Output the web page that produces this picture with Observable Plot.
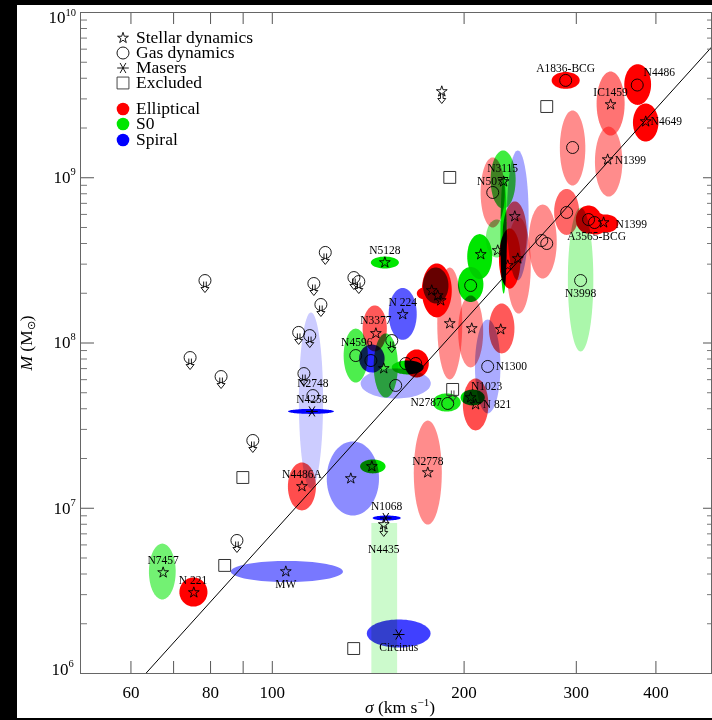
<!DOCTYPE html>
<html><head><meta charset="utf-8">
<script src="https://cdn.jsdelivr.net/npm/d3@7"></script>
<script src="https://cdn.jsdelivr.net/npm/@observablehq/plot@0.6"></script>
<style>
html,body{margin:0;padding:0;background:#000;width:712px;height:720px;overflow:hidden;}
#wrap{position:absolute;left:17px;top:5px;width:695px;height:713px;background:#fff;font-family:"Liberation Serif","Times New Roman",serif;color:#000;}
#wrap svg.plot{position:absolute;left:0;top:0;}
.leg{position:absolute;font-size:17.5px;line-height:13px;height:13px;white-space:nowrap;}
.ico{position:absolute;width:20px;height:20px;overflow:visible;}
.title{position:absolute;font-size:17.5px;line-height:20px;white-space:nowrap;}
</style></head><body><div id="wrap"></div><script>
// ---------- data (sigma in km/s, log10 M in solar masses) ----------
// ellipses: [sigma, logM, half-width in log sigma (dex), half-height in log M (dex), type, intensity]
const ellipses = [
 [288.7, 9.589, 0.022, 0.051, "E", 1.0],   // A1836-BCG
 [374.5, 9.564, 0.021, 0.123, "E", 1.0],   // N4486
 [339.6, 9.449, 0.022, 0.194, "E", 0.55],  // IC1459
 [385.5, 9.334, 0.020, 0.115, "E", 1.0],   // N4649
 [337.2, 9.098, 0.0215, 0.212, "E", 0.45], // N1399
 [296.0, 9.180, 0.020, 0.227, "E", 0.45],
 [289.7, 8.793, 0.0196, 0.139, "E", 0.6],
 [313.6, 8.747, 0.020, 0.085, "E", 1.0],   // A3565-BCG
 [321.6, 8.723, 0.019, 0.067, "E", 1.0],
 [333.5, 8.723, 0.020, 0.055, "E", 1.0],   // N1399
 [304.7, 8.384, 0.020, 0.436, "S0", 0.33], // N3998
 [265.7, 8.614, 0.022, 0.224, "E", 0.45],
 [221.8, 8.911, 0.019, 0.212, "E", 0.45],  // N5077
 [230.3, 8.989, 0.0196, 0.176, "S0", 0.75],// N3115
 [230.7, 8.650, 0.005, 0.351, "S0", 1.0],
 [242.8, 8.772, 0.017, 0.393, "S", 0.35],
 [240.2, 8.657, 0.019, 0.200, "E", 0.65],
 [211.6, 8.523, 0.0196, 0.136, "S0", 1.0],
 [225.0, 8.632, 0.017, 0.115, "S0", 0.5],
 [235.9, 8.511, 0.017, 0.182, "E", 1.0],
 [243.6, 8.469, 0.019, 0.291, "E", 0.45],
 [150.2, 8.487, 0.022, 0.036, "S0", 1.0],  // N5128
 [160.2, 8.176, 0.022, 0.157, "S", 0.65],  // N224
 [144.8, 8.088, 0.019, 0.139, "E", 0.65],  // N3377
 [135.2, 7.924, 0.019, 0.163, "S0", 0.7],  // N4596
 [143.3, 7.906, 0.020, 0.085, "S", 0.85],
 [150.7, 7.864, 0.019, 0.194, "S0", 0.75],
 [156.2, 7.755, 0.055, 0.091, "S", 0.33],
 [168.5, 7.876, 0.019, 0.085, "E", 1.0],
 [163.1, 7.852, 0.025, 0.042, "S0", 1.0],
 [187.8, 7.640, 0.022, 0.055, "S0", 0.9],  // N2787
 [206.3, 7.670, 0.019, 0.048, "S0", 1.0],  // N1023
 [208.5, 7.628, 0.020, 0.157, "E", 0.7],   // N821
 [217.8, 7.858, 0.020, 0.284, "S", 0.33],  // N1300
 [189.9, 8.118, 0.0196, 0.339, "E", 0.45],
 [204.8, 8.070, 0.0196, 0.218, "E", 0.45],
 [229.1, 8.088, 0.020, 0.151, "E", 0.65],
 [181.2, 8.318, 0.0235, 0.163, "E", 1.0],
 [180.5, 8.348, 0.020, 0.109, "S0", 0.6],
 [173.5, 8.300, 0.0125, 0.036, "E", 1.0],
 [204.8, 8.354, 0.020, 0.106, "S0", 1.0],
 [115.0, 7.586, 0.036, 0.015, "S", 1.0],   // N4258
 [115.0, 7.652, 0.019, 0.533, "S", 0.2],   // N2748
 [111.3, 7.132, 0.022, 0.145, "E", 0.7],   // N4486A
 [133.8, 7.180, 0.041, 0.224, "S", 0.45],
 [143.8, 7.253, 0.020, 0.042, "S0", 1.0],
 [175.4, 7.216, 0.022, 0.315, "E", 0.45],  // N2778
 [151.2, 6.941, 0.022, 0.015, "S", 1.0],   // N1068
 [157.9, 6.242, 0.050, 0.085, "S", 0.75],  // Circinus
 [105.4, 6.617, 0.088, 0.064, "S", 0.53],  // MW
 [67.2, 6.617, 0.021, 0.169, "S0", 0.55],  // N7457
 [75.2, 6.493, 0.022, 0.088, "E", 1.0]     // N221
];
// upper-limit band: [sigma low, sigma high, logM top, type, intensity]  (N4435)
const bands = [[143.3, 157.3, 6.908, "S0", 0.2]];

const stars = [
 [339.6, 9.443], [385.5, 9.340], [336.0, 9.110], [331.1, 8.729],
 [230.7, 8.977], [240.2, 8.766], [212.4, 8.536], [225.8, 8.560], [234.2, 8.469], [242.8, 8.511],
 [150.2, 8.487], [160.2, 8.173], [145.4, 8.058], [149.6, 7.846],
 [177.9, 8.318], [181.8, 8.287], [183.8, 8.257],
 [189.9, 8.118], [205.6, 8.088], [228.3, 8.082],
 [204.8, 7.670], [208.5, 7.628],
 [111.3, 7.132], [132.8, 7.180], [143.3, 7.253], [175.4, 7.216],
 [105.0, 6.617], [67.4, 6.611], [75.3, 6.490]
];
const starLimits = [[184.5, 9.522], [149.6, 6.902]];
const gas = [
 [288.7, 9.589], [373.9, 9.561], [296.0, 9.183], [289.7, 8.790], [313.6, 8.747], [320.4, 8.729],
 [264.8, 8.620], [269.6, 8.602], [221.8, 8.911], [304.7, 8.378], [204.8, 8.348],
 [135.2, 7.924], [142.8, 7.894], [156.2, 7.743], [162.0, 7.876], [167.9, 7.876],
 [188.5, 7.634], [217.8, 7.858], [115.8, 7.682]
];
const gasLimits = [
 [78.4, 8.378], [74.3, 7.912], [83.1, 7.797], [93.2, 7.410], [88.0, 6.805],
 [121.1, 8.548], [116.2, 8.360], [119.2, 8.233], [110.0, 8.064], [114.5, 8.045], [112.1, 7.815],
 [134.3, 8.396], [136.7, 8.372], [154.0, 8.015]
];
const masers = [[115.4, 7.586], [150.7, 6.941], [157.9, 6.236]];
const excluded = [[269.6, 9.431], [189.9, 9.002], [89.9, 7.186], [84.2, 6.654], [134.2, 6.151], [191.9, 7.719]];
const excludedLimits = [[191.9, 7.719]];

const labels = [
 ["A1836-BCG", 288.7, 9.661, "middle"], ["N4486", 382.6, 9.637, "start"],
 ["IC1459", 339.6, 9.516, "middle"], ["N4649", 392.4, 9.340, "start"],
 ["N1399", 344.6, 9.104, "start"], ["N1399", 345.8, 8.717, "start"],
 ["A3565-BCG", 322.8, 8.645, "middle"], ["N3998", 304.7, 8.300, "middle"],
 ["N3115", 229.9, 9.056, "middle"], ["N5077", 221.8, 8.977, "middle"],
 ["N5128", 150.2, 8.560, "middle"], ["N 224", 160.2, 8.245, "middle"],
 ["N3377", 145.4, 8.136, "middle"], ["N4596", 135.7, 8.003, "middle"],
 ["N2748", 115.8, 7.755, "middle"], ["N4258", 115.4, 7.658, "middle"],
 ["N2787", 184.5, 7.640, "end"], ["N1023", 217.0, 7.737, "middle"],
 ["N 821", 213.9, 7.628, "start"], ["N1300", 224.2, 7.858, "start"],
 ["N2778", 175.4, 7.283, "middle"], ["N4486A", 111.3, 7.204, "middle"],
 ["N1068", 151.2, 7.011, "middle"], ["N4435", 149.6, 6.750, "middle"],
 ["Circinus", 157.9, 6.157, "middle"], ["MW", 105.0, 6.539, "middle"],
 ["N7457", 67.4, 6.684, "middle"], ["N 221", 75.1, 6.563, "middle"]
];
// M–sigma fit line end points
const fitSigma = [63.3, 489];
const fitLogM = [6.0, 9.79];

const xTicks = [60, 70, 80, 90, 100, 200, 300, 400];
const xTickLabels = [60, 80, 100, 200, 300, 400];
const yDecades = [6, 7, 8, 9, 10];
const yMinorMantissas = [2, 3, 4, 5, 6, 7, 8, 9];

const legendMethods = ["Stellar dynamics", "Gas dynamics", "Masers", "Excluded"];
const legendTypes = ["Elliptical", "S0", "Spiral"];

// ---------- styling helpers ----------
const FONT = '"Liberation Serif","Times New Roman",serif';
const base = {E: [255, 0, 0], S0: [0, 230, 0], S: [0, 0, 255]};
function shade(type, a) {
  const b = base[type];
  return d3.rgb(...b.map(c => Math.round(255 - a * (255 - c)))).formatHex();
}
const X0 = 50, X1 = 489, Y0 = 1e6, Y1 = 1e10;
const PXX = 637.6, PXY = 165.25; // px per decade
const arrowSymbol = {draw(ctx) {
  ctx.moveTo(-1.3, 1); ctx.lineTo(-1.3, 7); ctx.lineTo(-4, 7); ctx.lineTo(0, 12);
  ctx.lineTo(4, 7); ctx.lineTo(1.3, 7); ctx.lineTo(1.3, 1);
}};

const ellipseMarks = ellipses.map(([s, m, ds, dm, type, a]) => {
  const pts = d3.range(81).map(i => {
    const t = i / 80 * 2 * Math.PI;
    return [10 ** (Math.log10(s) + ds * Math.cos(t)), 10 ** (m + dm * Math.sin(t))];
  });
  return Plot.line(pts, {x: p => p[0], y: p => p[1], fill: shade(type, a), stroke: "none",
    mixBlendMode: "multiply", curve: "linear-closed"});
});
const bandMarks = bands.map(([s1, s2, m, type, a]) =>
  Plot.rect([0], {x1: s1, x2: s2, y1: Y0, y2: 10 ** m, fill: shade(type, a), mixBlendMode: "multiply"}));

const yMinor = yDecades.slice(0, -1).flatMap(k => yMinorMantissas.map(mm => mm * 10 ** k));
const yMajor = yDecades.map(k => 10 ** k);
const tickColor = "#555";

const fit = fitSigma.map((s, i) => [s, 10 ** fitLogM[i]]);
const P = d => d[0], Q = d => 10 ** d[1];
const inner = yDecades.filter(k => k > 6 && k < 10);

const chart = Plot.plot({
  width: 695, height: 713,
  marginLeft: 63, marginRight: 1, marginTop: 7, marginBottom: 45,
  x: {type: "log", domain: [X0, X1], axis: null},
  y: {type: "log", domain: [Y0, Y1], axis: null},
  style: {fontFamily: FONT, background: "white", color: "black"},
  marks: [
    ...bandMarks,
    ...ellipseMarks,
    Plot.line(fit, {x: d => d[0], y: d => d[1], stroke: "black", strokeWidth: 1, clip: true}),
    // ticks (inward)
    Plot.ruleX(xTicks, {x: d => d, y1: Y0, y2: Y0 * 10 ** (12 / PXY), stroke: tickColor}),
    Plot.ruleX(xTicks, {x: d => d, y1: Y1, y2: Y1 / 10 ** (12 / PXY), stroke: tickColor}),
    Plot.ruleY(yMajor, {y: d => d, x1: X0, x2: X0 * 10 ** (14 / PXX), stroke: tickColor}),
    Plot.ruleY(yMinor, {y: d => d, x1: X0, x2: X0 * 10 ** (7 / PXX), stroke: "#777"}),
    Plot.ruleY(yMajor, {y: d => d, x1: X1, x2: X1 / 10 ** (8 / PXX), stroke: tickColor}),
    Plot.ruleY(yMinor, {y: d => d, x1: X1, x2: X1 / 10 ** (4 / PXX), stroke: "#777"}),
    Plot.frame({stroke: "#666"}),
    // tick labels
    Plot.text(xTickLabels, {x: d => d, text: d => String(d), frameAnchor: "bottom", lineAnchor: "top", dy: 12, fontSize: 17}),
    Plot.text(inner, {y: k => 10 ** k, text: () => "10", frameAnchor: "left", textAnchor: "end", dx: -10, fontSize: 17}),
    Plot.text(inner, {y: k => 10 ** k, text: k => String(k), frameAnchor: "left", textAnchor: "start", dx: -10, dy: -6, fontSize: 10.5}),
    Plot.text([6], {y: k => 10 ** k, text: () => "10", frameAnchor: "left", textAnchor: "end", dx: -12, dy: -4, fontSize: 17}),
    Plot.text([6], {y: k => 10 ** k, text: k => String(k), frameAnchor: "left", textAnchor: "start", dx: -12, dy: -10, fontSize: 10.5}),
    Plot.text([10], {y: k => 10 ** k, text: () => "10", frameAnchor: "left", textAnchor: "end", dx: -15, dy: 5, fontSize: 17}),
    Plot.text([10], {y: k => 10 ** k, text: k => String(k), frameAnchor: "left", textAnchor: "start", dx: -15, dy: 0, fontSize: 10.5}),
    // symbols
    Plot.dot(excluded, {x: P, y: Q, symbol: "square", r: 6.7, stroke: "#333", strokeWidth: 1, fill: "none"}),
    Plot.dot(excludedLimits, {x: P, y: Q, symbol: arrowSymbol, stroke: "#333", strokeWidth: 0.9, fill: "none"}),
    Plot.dot(gas, {x: P, y: Q, symbol: "circle", r: 6, stroke: "black", strokeWidth: 0.9, fill: "none"}),
    Plot.dot(gasLimits, {x: P, y: Q, symbol: "circle", r: 6, stroke: "black", strokeWidth: 0.9, fill: "none"}),
    Plot.dot(gasLimits, {x: P, y: Q, symbol: arrowSymbol, stroke: "black", strokeWidth: 0.9, fill: "none"}),
    Plot.dot(stars, {x: P, y: Q, symbol: "star", r: 3.4, stroke: "black", strokeWidth: 0.9, fill: "none"}),
    Plot.dot(starLimits, {x: P, y: Q, symbol: "star", r: 3.4, stroke: "black", strokeWidth: 0.9, fill: "none"}),
    Plot.dot(starLimits, {x: P, y: Q, symbol: arrowSymbol, stroke: "black", strokeWidth: 0.9, fill: "none"}),
    Plot.dot(masers, {x: P, y: Q, symbol: "asterisk", r: 5.5, rotate: 90, stroke: "black", strokeWidth: 1}),
    // labels
    ...["middle", "start", "end"].map(anchor =>
      Plot.text(labels.filter(d => d[3] === anchor), {x: d => d[1], y: d => 10 ** d[2], text: d => d[0],
        textAnchor: anchor, fontSize: 11.5, fill: "black"}))
  ]
});
chart.classList.add("plot");
// make sure overlapping uncertainty regions multiply, as in the original figure
chart.querySelectorAll('g[aria-label="line"] > path, g[aria-label="rect"] > rect').forEach(p => { p.style.mixBlendMode = "multiply"; });
const wrap = document.getElementById("wrap");
wrap.appendChild(chart);

// ---------- legend (inside plot, top-left) ----------
const symPath = (type, size) => d3.symbol(type, size)();
const iconDefs = [
  {d: symPath(d3.symbolStar, Math.PI * 3.4 * 3.4)},
  {d: symPath(d3.symbolCircle, Math.PI * 36)},
  {d: symPath(d3.symbolAsterisk, Math.PI * 5.5 * 5.5), rot: 90},
  {d: symPath(d3.symbolSquare, Math.PI * 6.7 * 6.7), stroke: "#333"}
];
const methodY = [38, 53, 68, 83];
const typeY = [108.5, 124, 139.5];
const typeColors = ["#ff0000", "#00e600", "#0000ff"];
function addRow(text, cy, iconSvg) {
  const ico = document.createElementNS("http://www.w3.org/2000/svg", "svg");
  ico.setAttribute("class", "ico");
  ico.setAttribute("viewBox", "-10 -10 20 20");
  ico.style.left = (123 - 17 - 10) + "px";
  ico.style.top = (cy - 5 - 10) + "px";
  ico.innerHTML = iconSvg;
  wrap.appendChild(ico);
  const t = document.createElement("div");
  t.className = "leg";
  t.style.left = (136 - 17) + "px";
  t.style.top = (cy - 5 - 6.6) + "px";
  t.textContent = text;
  wrap.appendChild(t);
}
legendMethods.forEach((name, i) => {
  const s = iconDefs[i];
  addRow(name, methodY[i], `<path d="${s.d}" fill="none" stroke="${s.stroke || "black"}" stroke-width="0.9" ${s.rot ? `transform="rotate(${s.rot})"` : ""}/>`);
});
legendTypes.forEach((name, i) => {
  addRow(name, typeY[i], `<circle r="6.3" fill="${typeColors[i]}"/>`);
});

// ---------- axis titles ----------
const xt = document.createElement("div");
xt.className = "title";
xt.style.left = (400 - 17) + "px";
xt.style.top = (692) + "px";
xt.style.transform = "translateX(-50%)";
xt.innerHTML = '<i>σ</i> (km s<sup style="font-size:11px;vertical-align:7px;line-height:0">−1</sup>)';
wrap.appendChild(xt);
const yt = document.createElement("div");
yt.className = "title";
yt.style.left = (26 - 17) + "px";
yt.style.top = (343 - 5) + "px";
yt.style.transform = "translate(-50%,-50%) rotate(-90deg)";
yt.innerHTML = '<i>M</i> (M<sub style="font-size:11px;vertical-align:-3px;line-height:0">⊙</sub>)';
wrap.appendChild(yt);
</script></body></html>
